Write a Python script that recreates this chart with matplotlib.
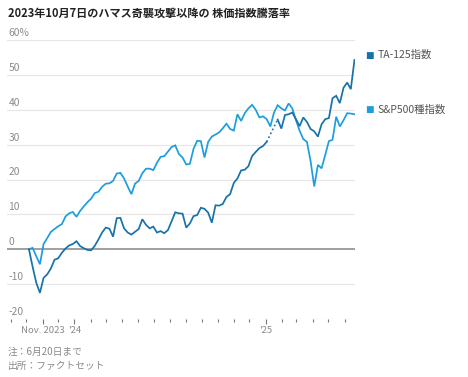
import matplotlib
matplotlib.use("Agg")
import matplotlib.pyplot as plt
import matplotlib.dates as mdates
import numpy as np
import datetime as dt

plt.rcParams['font.family'] = ['Noto Sans CJK JP', 'DejaVu Sans']

# ---- data (weekly, from 2023-10-06 baseline to 2025-06-20) ----
start_date = dt.date(2023, 10, 6)
n_weeks = 90
dates = [start_date + dt.timedelta(days=7 * i) for i in range(n_weeks - 1)] + [dt.date(2025, 6, 20)]

ta125 = [0, -5.0, -9.6, -12.5, -8.2, -7.2, -5.5, -3.0, -2.6, -1.0,
         0.2, 1.1, 1.5, 2.3, 0.9, 0.3, -0.2, -0.3, 1.0, 2.8,
         4.8, 6.2, 5.9, 3.6, 8.9, 9.0, 6.0, 4.8, 4.2, 5.0,
         5.8, 8.6, 7.0, 6.0, 6.5, 4.8, 5.2, 4.6, 5.5, 8.0,
         10.6, 10.3, 10.2, 6.2, 7.4, 9.5, 9.8, 11.9, 11.6, 10.5,
         7.6, 12.6, 12.5, 13.0, 15.0, 15.8, 19.0, 20.3, 22.6, 22.8,
         23.8, 26.7, 27.9, 29.0, 29.6, 30.8, np.nan, np.nan, 37.2, 34.6,
         38.5, 38.7, 39.2, 37.3, 35.3, 37.8, 36.5, 34.5, 33.8, 32.3,
         35.8, 37.3, 37.6, 43.3, 44.0, 41.9, 46.3, 47.8, 45.9, 54.3]

sp500 = [0, 0.4, -2.0, -4.3, 1.5, 3.2, 5.0, 5.8, 6.6, 7.2,
         9.4, 10.3, 10.7, 9.3, 11.0, 12.3, 13.5, 14.5, 16.1, 16.5,
         17.9, 18.8, 18.9, 19.6, 21.7, 21.9, 20.3, 18.0, 15.8, 18.8,
         19.6, 21.8, 23.1, 23.1, 22.7, 24.8, 26.5, 26.7, 28.0, 29.3,
         29.8, 27.3, 26.3, 24.3, 24.5, 28.8, 31.1, 31.0, 26.3, 30.8,
         32.3, 32.9, 33.5, 34.7, 36.0, 34.5, 34.0, 38.7, 36.8, 39.0,
         40.4, 41.4, 40.0, 37.8, 38.1, 37.3, 35.2, 39.2, 41.3, 40.4,
         39.8, 41.8, 40.4, 37.0, 34.0, 31.6, 30.8, 25.3, 18.0, 24.2,
         23.2, 27.0, 31.0, 31.4, 38.0, 35.2, 37.0, 39.0, 38.9, 38.7]

series_names = ['TA-125指数', 'S&P500種指数']
y_ticks = [-20, -10, 0, 10, 20, 30, 40, 50, 60]
y_tick_labels = ['-20', '-10', '0', '10', '20', '30', '40', '50', '60%']
x_tick_dates = [dt.date(2023, 11, 1), dt.date(2024, 1, 1), dt.date(2025, 1, 1)]
x_tick_labels = ['Nov. 2023', "'24", "'25"]

title = '2023年10月7日のハマス奇襲攻撃以降の 株価指数騰落率'
note = '注：6月20日まで'
source = '出所：ファクトセット'

# ---- figure ----
W, H = 468, 377
fig = plt.figure(figsize=(W / 100, H / 100), dpi=100)
ax = fig.add_axes([7 / W, 1 - 319 / H, (355 - 7) / W, (319 - 40) / H])

c_ta = '#1772a9'
c_sp = '#1d9ddf'
grid_c = '#e6e6e6'
txt_c = '#8a8a8a'

ta = np.array(ta125, dtype=float)
sp = np.array(sp500, dtype=float)
dnum = mdates.date2num(dates)

ax.plot(dnum, sp, color=c_sp, lw=1.25, solid_joinstyle='miter', zorder=3)
ax.plot(dnum, ta, color=c_ta, lw=1.25, solid_joinstyle='miter', zorder=4)

# dotted connector across the gap in TA-125
nan_idx = np.where(np.isnan(ta))[0]
if len(nan_idx):
    a, b = nan_idx[0] - 1, nan_idx[-1] + 1
    ax.plot([dnum[a], dnum[b]], [ta[a], ta[b]], color=c_ta, lw=1.2,
            linestyle=(0, (1, 1.6)), zorder=4)

ax.set_ylim(-20, 60)
x_left = mdates.date2num(dt.date(2023, 8, 25))
x_right = mdates.date2num(dt.date(2025, 6, 21))
ax.set_xlim(x_left, x_right)

for sp_ in ax.spines.values():
    sp_.set_visible(False)

# gridlines
for v in y_ticks:
    if v == 0:
        ax.axhline(0, color='#999999', lw=1.3, zorder=2)
    else:
        ax.axhline(v, color=grid_c, lw=0.8, zorder=1)

ax.set_yticks([])
# y labels above gridlines, left aligned
for v, lab in zip(y_ticks, y_tick_labels):
    ax.annotate(lab, xy=(0, v), xycoords=('axes fraction', 'data'),
                xytext=(1, 1.5), textcoords='offset points',
                ha='left', va='bottom', fontsize=7.4, color=txt_c)

# x ticks: monthly minor ticks, labeled major
ax.xaxis.set_minor_locator(mdates.MonthLocator())
ax.set_xticks(mdates.date2num(x_tick_dates))
ax.set_xticklabels(x_tick_labels)
ax.tick_params(axis='x', which='minor', length=2.5, width=0.8, color='#777777')
ax.tick_params(axis='x', which='major', length=3.5, width=0.8, color='#777777',
               labelsize=6.8, labelcolor=txt_c, pad=1.5)

# legend labels at end values
for vals, name, col in [(ta, series_names[0], c_ta), (sp, series_names[1], c_sp)]:
    last = vals[-1]
    ax.annotate('■', xy=(dnum[-1], last), xycoords='data',
                xytext=(10.5, 3.5), textcoords='offset points',
                ha='center', va='center', fontsize=6.5, color=col,
                annotation_clip=False, family='DejaVu Sans')
    ax.annotate(name, xy=(dnum[-1], last), xycoords='data',
                xytext=(16.5, 3.5), textcoords='offset points',
                ha='left', va='center', fontsize=7.5, color='#555555',
                annotation_clip=False)

fig.text(8 / W, 1 - 13 / H, title, ha='left', va='center',
         fontsize=8.0, fontweight='bold', color='#222222')
fig.text(8 / W, 1 - 352 / H, note, ha='left', va='center', fontsize=7, color=txt_c)
fig.text(8 / W, 1 - 366 / H, source, ha='left', va='center', fontsize=7, color=txt_c)

fig.savefig('out.png', dpi=100)
